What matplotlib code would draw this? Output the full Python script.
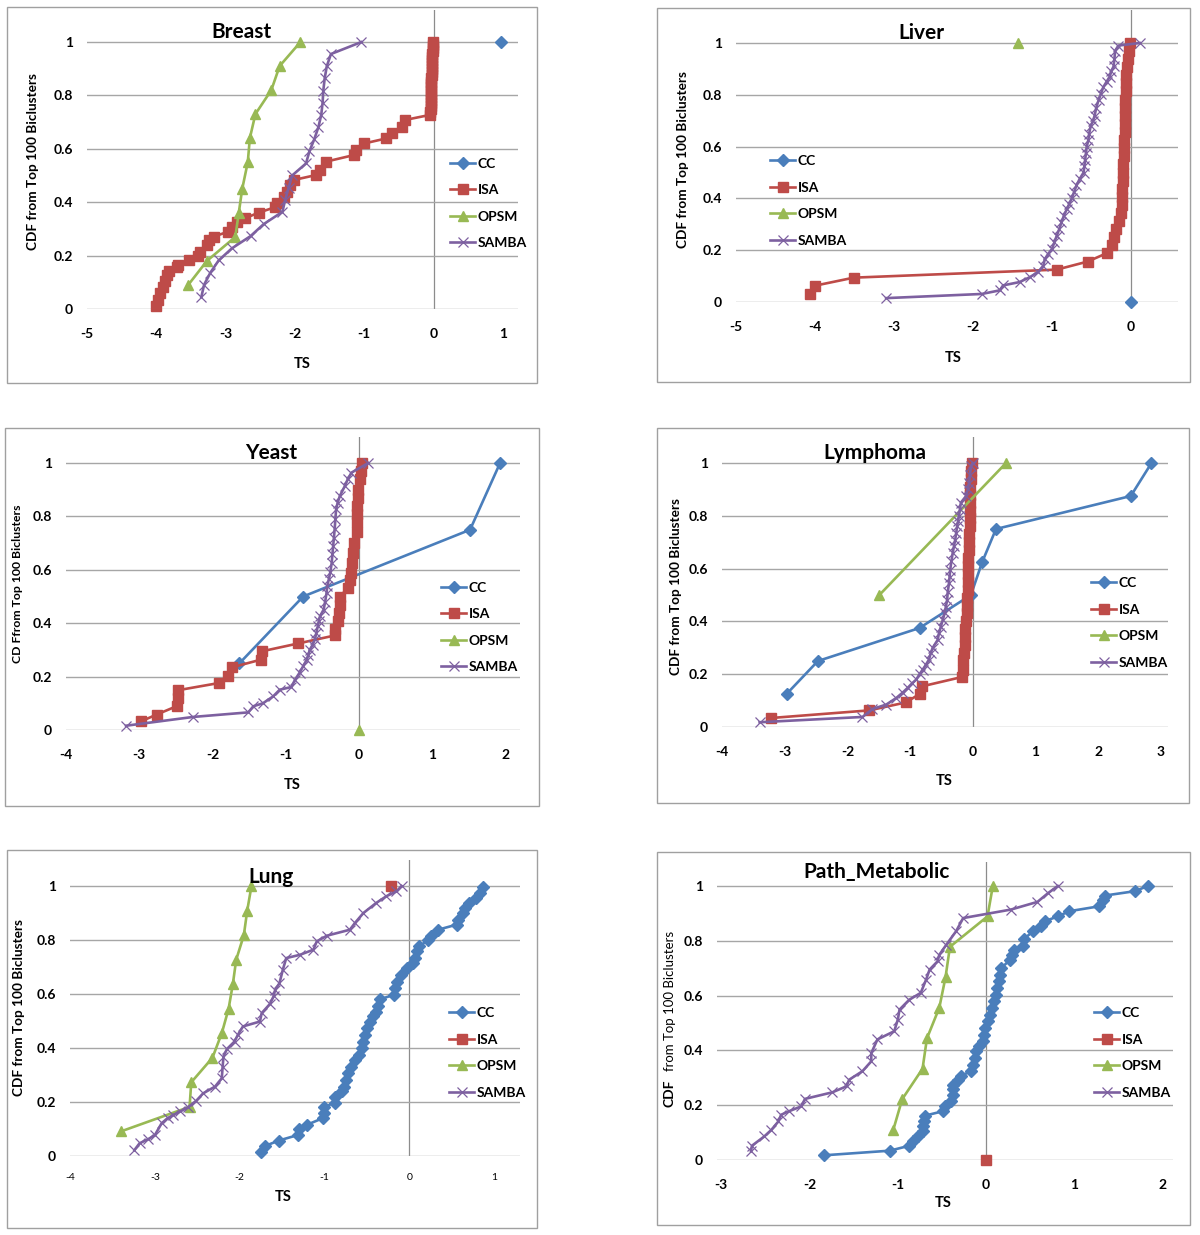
import matplotlib
matplotlib.use('Agg')
import matplotlib.pyplot as plt
from matplotlib.lines import Line2D
from matplotlib.patches import Rectangle

plt.rcParams['font.family'] = ['Lato', 'DejaVu Sans']

# ---------------- data ----------------
series_names = ['CC', 'ISA', 'OPSM', 'SAMBA']
y_ticks = [0, 0.2, 0.4, 0.6, 0.8, 1.0]
y_tick_labels = ['0', '0.2', '0.4', '0.6', '0.8', '1']

# Breast
breast_cc_x = [0.97]
breast_cc_y = [1.0]
breast_isa_x = [-4.01, -3.98, -3.94, -3.91, -3.88, -3.85, -3.82, -3.70, -3.69, -3.53,
                -3.40, -3.37, -3.27, -3.24, -3.17, -2.96, -2.91, -2.84, -2.72, -2.52,
                -2.29, -2.26, -2.16, -2.12, -2.07, -2.02, -1.69, -1.64, -1.55, -1.14,
                -1.12, -1.00, -0.68, -0.60, -0.46, -0.41, -0.05,
                -0.045, -0.043, -0.04, -0.04, -0.038, -0.036, -0.035, -0.034, -0.033, -0.032,
                -0.03, -0.03, -0.028, -0.027, -0.025, -0.024, -0.022, -0.02, -0.018, -0.015,
                -0.012, -0.01, -0.008, -0.005]
breast_isa_y = [0.011, 0.034, 0.061, 0.084, 0.105, 0.127, 0.144, 0.156, 0.165, 0.184,
                0.199, 0.215, 0.24, 0.258, 0.271, 0.29, 0.308, 0.327, 0.34, 0.361,
                0.381, 0.396, 0.421, 0.44, 0.464, 0.483, 0.502, 0.521, 0.552, 0.577,
                0.596, 0.62, 0.639, 0.658, 0.683, 0.708, 0.727,
                0.739, 0.75, 0.761, 0.773, 0.784, 0.795, 0.807, 0.818, 0.83, 0.841,
                0.852, 0.864, 0.875, 0.886, 0.898, 0.909, 0.92, 0.932, 0.943, 0.955,
                0.966, 0.977, 0.989, 1.0]
breast_opsm_x = [-3.54, -3.27, -2.86, -2.81, -2.76, -2.68, -2.65, -2.57, -2.34, -2.22, -1.92]
breast_opsm_y = [0.09, 0.18, 0.27, 0.36, 0.45, 0.55, 0.64, 0.73, 0.82, 0.91, 1.0]
breast_samba_x = [-3.35, -3.31, -3.22, -3.10, -2.91, -2.64, -2.45, -2.18, -2.14, -2.09, -2.04,
                  -1.84, -1.79, -1.72, -1.66, -1.62, -1.60, -1.59, -1.57, -1.54, -1.48, -1.04]
breast_samba_y = [0.045, 0.091, 0.136, 0.182, 0.227, 0.273, 0.318, 0.364, 0.409, 0.455, 0.5,
                  0.545, 0.591, 0.636, 0.682, 0.727, 0.773, 0.818, 0.864, 0.909, 0.955, 1.0]

# Liver
liver_cc_x = [0.0]
liver_cc_y = [0.0]
liver_isa_x = [-4.06, -4.00, -3.51, -0.94, -0.55, -0.31, -0.245, -0.215, -0.19, -0.15,
               -0.13, -0.12, -0.115, -0.11, -0.105, -0.10, -0.095, -0.09, -0.088, -0.085,
               -0.082, -0.08, -0.078, -0.075, -0.07, -0.065, -0.06, -0.058, -0.055, -0.04,
               -0.03, -0.01]
liver_isa_y = [0.031, 0.063, 0.094, 0.125, 0.156, 0.188, 0.219, 0.25, 0.281, 0.313,
               0.344, 0.375, 0.406, 0.438, 0.469, 0.5, 0.531, 0.563, 0.594, 0.625,
               0.656, 0.688, 0.719, 0.75, 0.781, 0.813, 0.844, 0.875, 0.906, 0.938,
               0.969, 1.0]
liver_opsm_x = [-1.43]
liver_opsm_y = [1.0]
liver_samba_x = [-3.10, -1.89, -1.66, -1.62, -1.41, -1.28, -1.18, -1.11, -1.09, -1.05,
                 -1.00, -0.97, -0.94, -0.91, -0.88, -0.85, -0.81, -0.78, -0.75, -0.72,
                 -0.69, -0.65, -0.60, -0.59, -0.58, -0.57, -0.56, -0.54, -0.53, -0.51,
                 -0.48, -0.46, -0.44, -0.41, -0.38, -0.35, -0.31, -0.27, -0.25, -0.22,
                 -0.21, -0.20, -0.16, 0.11]
liver_samba_y = [0.015, 0.031, 0.045, 0.064, 0.077, 0.096, 0.115, 0.14, 0.166, 0.185,
                 0.205, 0.23, 0.256, 0.28, 0.307, 0.333, 0.36, 0.38, 0.40, 0.425,
                 0.45, 0.475, 0.50, 0.525, 0.55, 0.575, 0.60, 0.625, 0.65, 0.68,
                 0.70, 0.72, 0.75, 0.78, 0.805, 0.83, 0.85, 0.87, 0.89, 0.91,
                 0.94, 0.97, 0.99, 1.0]

# Yeast
yeast_cc_x = [-1.63, -0.76, 1.52, 1.93]
yeast_cc_y = [0.25, 0.5, 0.75, 1.0]
yeast_isa_x = [-2.97, -2.76, -2.49, -2.47, -2.47, -1.91, -1.79, -1.73, -1.33, -1.32,
               -0.83, -0.33, -0.33, -0.29, -0.27, -0.26, -0.26, -0.146, -0.12, -0.10,
               -0.087, -0.077, -0.068, -0.03, -0.02, -0.02, -0.018, -0.015, -0.01, 0.02,
               0.03, 0.04]
yeast_isa_y = [0.033, 0.058, 0.089, 0.12, 0.149, 0.176, 0.204, 0.235, 0.264, 0.295,
               0.324, 0.354, 0.379, 0.408, 0.439, 0.47, 0.50, 0.532, 0.56, 0.589,
               0.626, 0.664, 0.70, 0.74, 0.78, 0.81, 0.84, 0.87, 0.90, 0.94,
               0.97, 1.0]
yeast_opsm_x = [0.0]
yeast_opsm_y = [0.0]
yeast_samba_x = [-3.18, -2.26, -1.51, -1.44, -1.31, -1.17, -1.08, -0.92, -0.87, -0.81,
                 -0.76, -0.71, -0.69, -0.67, -0.63, -0.60, -0.58, -0.56, -0.545, -0.53,
                 -0.48, -0.46, -0.44, -0.43, -0.41, -0.39, -0.37, -0.36, -0.35, -0.34,
                 -0.33, -0.32, -0.31, -0.29, -0.26, -0.19, -0.15, -0.10, 0.13]
yeast_samba_y = [0.016, 0.049, 0.066, 0.089, 0.10, 0.126, 0.151, 0.161, 0.189, 0.214,
                 0.239, 0.264, 0.28, 0.30, 0.32, 0.339, 0.364, 0.389, 0.41, 0.426,
                 0.451, 0.48, 0.514, 0.54, 0.564, 0.59, 0.626, 0.66, 0.689, 0.72,
                 0.751, 0.79, 0.826, 0.85, 0.876, 0.914, 0.94, 0.964, 1.0]

# Lymphoma
lymph_cc_x = [-2.97, -2.47, -0.85, -0.03, 0.15, 0.37, 2.52, 2.85]
lymph_cc_y = [0.125, 0.25, 0.375, 0.5, 0.625, 0.75, 0.875, 1.0]
lymph_isa_x = [-3.22, -1.65, -1.07, -0.84, -0.81, -0.18, -0.16, -0.15,
               -0.14, -0.13, -0.12, -0.12, -0.11, -0.10, -0.10, -0.09, -0.08, -0.08,
               -0.07, -0.07, -0.07, -0.06, -0.06, -0.06, -0.05, -0.05, -0.05, -0.04,
               -0.04, -0.04, -0.03, -0.03, -0.02]
lymph_isa_y = [0.034, 0.063, 0.093, 0.126, 0.154, 0.189, 0.217, 0.255,
               0.28, 0.31, 0.34, 0.37, 0.40, 0.43, 0.46, 0.49, 0.52, 0.55,
               0.58, 0.61, 0.64, 0.67, 0.70, 0.73, 0.76, 0.79, 0.82, 0.85,
               0.88, 0.91, 0.94, 0.97, 1.0]
lymph_opsm_x = [-1.49, 0.53]
lymph_opsm_y = [0.5, 1.0]
lymph_samba_x = [-3.40, -1.76, -1.60, -1.38, -1.22, -1.12, -1.04, -0.97, -0.90, -0.85,
                 -0.80, -0.75, -0.70, -0.67, -0.64, -0.56, -0.54, -0.51, -0.48, -0.45,
                 -0.43, -0.41, -0.40, -0.38, -0.37, -0.36, -0.34, -0.32, -0.30, -0.28,
                 -0.265, -0.25, -0.235, -0.22, -0.205, -0.19, -0.11, -0.08, -0.06, -0.045,
                 -0.03, 0.0]
lymph_samba_y = [0.018, 0.038, 0.068, 0.085, 0.11, 0.13, 0.148, 0.165, 0.18, 0.2,
                 0.217, 0.235, 0.255, 0.28, 0.30, 0.33, 0.355, 0.38, 0.405, 0.43,
                 0.455, 0.48, 0.51, 0.545, 0.57, 0.596, 0.63, 0.66, 0.685, 0.71,
                 0.735, 0.76, 0.78, 0.80, 0.825, 0.85, 0.874, 0.90, 0.924, 0.955,
                 0.987, 1.0]

# Lung
lung_cc_x = [-1.75, -1.70, -1.54, -1.31, -1.30, -1.21, -1.02, -1.01, -1.01, -0.88,
             -0.87, -0.79, -0.77, -0.74, -0.72, -0.69, -0.64, -0.59, -0.56, -0.54,
             -0.52, -0.50, -0.46, -0.43, -0.39, -0.37, -0.34, -0.18, -0.17, -0.14,
             -0.10, -0.03, 0.05, 0.07, 0.09, 0.12, 0.22, 0.26, 0.34, 0.56,
             0.58, 0.64, 0.66, 0.70, 0.79, 0.83, 0.87]
lung_cc_y = [0.016, 0.037, 0.057, 0.078, 0.099, 0.115, 0.14, 0.158, 0.18, 0.198,
             0.218, 0.239, 0.257, 0.282, 0.307, 0.331, 0.356, 0.375, 0.399, 0.424,
             0.449, 0.473, 0.498, 0.519, 0.535, 0.554, 0.581, 0.597, 0.622, 0.646,
             0.671, 0.696, 0.714, 0.733, 0.758, 0.776, 0.80, 0.816, 0.838, 0.857,
             0.875, 0.90, 0.918, 0.937, 0.955, 0.974, 0.996]
lung_isa_x = [-0.21]
lung_isa_y = [1.0]
lung_opsm_x = [-3.40, -2.59, -2.57, -2.32, -2.21, -2.13, -2.08, -2.04, -1.95, -1.91, -1.86]
lung_opsm_y = [0.091, 0.182, 0.273, 0.364, 0.455, 0.545, 0.636, 0.727, 0.818, 0.909, 1.0]
lung_samba_x = [-3.24, -3.18, -3.08, -3.00, -2.92, -2.85, -2.78, -2.70, -2.61, -2.51,
                -2.43, -2.29, -2.21, -2.20, -2.19, -2.15, -2.06, -2.02, -1.96, -1.76,
                -1.74, -1.64, -1.60, -1.58, -1.53, -1.49, -1.45, -1.29, -1.13, -1.09,
                -0.97, -0.70, -0.64, -0.54, -0.39, -0.27, -0.15, -0.09]
lung_samba_y = [0.022, 0.047, 0.062, 0.077, 0.121, 0.14, 0.152, 0.165, 0.18, 0.205,
                0.232, 0.257, 0.288, 0.331, 0.368, 0.396, 0.424, 0.449, 0.48, 0.498,
                0.529, 0.564, 0.591, 0.616, 0.64, 0.69, 0.733, 0.745, 0.764, 0.795,
                0.816, 0.838, 0.863, 0.90, 0.937, 0.962, 0.98, 1.0]

# Path_Metabolic
path_cc_x = [-1.84, -1.09, -0.87, -0.83, -0.77, -0.72, -0.71, -0.70, -0.69, -0.49,
             -0.47, -0.40, -0.38, -0.38, -0.37, -0.32, -0.28, -0.17, -0.15, -0.13,
             -0.11, -0.08, -0.04, -0.03, -0.01, 0.02, 0.045, 0.07, 0.09, 0.11,
             0.125, 0.14, 0.16, 0.17, 0.27, 0.29, 0.32, 0.42, 0.43, 0.53,
             0.62, 0.66, 0.81, 0.94, 1.28, 1.32, 1.34, 1.68, 1.83]
path_cc_y = [0.017, 0.034, 0.052, 0.07, 0.086, 0.105, 0.123, 0.141, 0.162, 0.178,
             0.196, 0.214, 0.238, 0.259, 0.274, 0.291, 0.308, 0.324, 0.348, 0.372,
             0.397, 0.417, 0.433, 0.457, 0.482, 0.506, 0.53, 0.555, 0.579, 0.603,
             0.628, 0.652, 0.676, 0.70, 0.731, 0.749, 0.768, 0.782, 0.807, 0.835,
             0.853, 0.871, 0.889, 0.908, 0.926, 0.95, 0.965, 0.981, 1.0]
path_isa_x = [0.0]
path_isa_y = [0.0]
path_opsm_x = [-1.05, -0.95, -0.72, -0.67, -0.53, -0.46, -0.41, 0.015, 0.075]
path_opsm_y = [0.111, 0.222, 0.333, 0.444, 0.556, 0.667, 0.778, 0.889, 1.0]
path_samba_x = [-2.66, -2.65, -2.51, -2.43, -2.35, -2.32, -2.23, -2.09, -2.05, -1.74,
                -1.58, -1.55, -1.40, -1.30, -1.30, -1.23, -1.04, -1.00, -0.98, -0.87,
                -0.74, -0.68, -0.64, -0.55, -0.53, -0.45, -0.34, -0.26, 0.28, 0.58,
                0.70, 0.81]
path_samba_y = [0.032, 0.052, 0.086, 0.11, 0.141, 0.165, 0.178, 0.196, 0.223, 0.247,
                0.269, 0.293, 0.324, 0.36, 0.39, 0.44, 0.47, 0.512, 0.549, 0.585,
                0.61, 0.658, 0.695, 0.725, 0.749, 0.786, 0.835, 0.883, 0.914, 0.942,
                0.974, 1.0]

# ---------------- styling / layout ----------------
W, H = 1200, 1235
COLORS = {'CC': '#4A7EBB', 'ISA': '#BE4B48', 'OPSM': '#98B954', 'SAMBA': '#7D60A0'}
MARKERS = {'CC': dict(marker='D', ms=6),
           'ISA': dict(marker='s', ms=7.5),
           'OPSM': dict(marker='^', ms=7),
           'SAMBA': dict(marker='x', ms=7, mew=0.9)}
GRID = '#a6a6a6'

panels = [
    dict(title='Breast', title_xy=(241, 32), box=(7, 7, 537, 383),
         L=87, R=518, xleft=-5, ppu=69.3, y0=309, ppuy=267, top=10,
         xticks=[-5, -4, -3, -2, -1, 0, 1], leg=(450, 203.5), xlab=(302, 364),
         ylab=dict(x=33, y=162, kind='bold'), xtick_small=False,
         data={'CC': (breast_cc_x, breast_cc_y), 'ISA': (breast_isa_x, breast_isa_y),
               'OPSM': (breast_opsm_x, breast_opsm_y), 'SAMBA': (breast_samba_x, breast_samba_y)}),
    dict(title='Liver', title_xy=(921, 33), box=(657, 8, 1190, 382),
         L=736, R=1178, xleft=-5, ppu=79.0, y0=302, ppuy=259, top=10,
         xticks=[-5, -4, -3, -2, -1, 0], leg=(770, 201), xlab=(953, 358),
         ylab=dict(x=683, y=160, kind='bold'), xtick_small=False,
         data={'CC': (liver_cc_x, liver_cc_y), 'ISA': (liver_isa_x, liver_isa_y),
               'OPSM': (liver_opsm_x, liver_opsm_y), 'SAMBA': (liver_samba_x, liver_samba_y)}),
    dict(title='Yeast', title_xy=(271, 453), box=(5, 428, 539, 806),
         L=66, R=520, xleft=-4, ppu=73.2, y0=730, ppuy=267, top=437,
         xticks=[-4, -3, -2, -1, 0, 1, 2], leg=(441, 627.5), xlab=(292, 785),
         ylab=dict(x=18, y=584, kind='small'), xtick_small=False,
         data={'CC': (yeast_cc_x, yeast_cc_y), 'ISA': (yeast_isa_x, yeast_isa_y),
               'OPSM': (yeast_opsm_x, yeast_opsm_y), 'SAMBA': (yeast_samba_x, yeast_samba_y)}),
    dict(title='Lymphoma', title_xy=(875, 453), box=(657, 428, 1189, 803),
         L=722, R=1168, xleft=-4, ppu=62.7, y0=727, ppuy=264, top=437,
         xticks=[-4, -3, -2, -1, 0, 1, 2, 3], leg=(1091, 623), xlab=(944, 781),
         ylab=dict(x=676, y=587, kind='bold'), xtick_small=False,
         data={'CC': (lymph_cc_x, lymph_cc_y), 'ISA': (lymph_isa_x, lymph_isa_y),
               'OPSM': (lymph_opsm_x, lymph_opsm_y), 'SAMBA': (lymph_samba_x, lymph_samba_y)}),
    dict(title='Lung', title_xy=(271, 877), box=(7, 850, 537, 1228),
         L=70, R=520, xleft=-4, ppu=84.8, y0=1156, ppuy=270, top=860,
         xticks=[-4, -3, -2, -1, 0, 1], leg=(449, 1053), xlab=(283, 1197),
         ylab=dict(x=19, y=1008, kind='bold'), xtick_small=True,
         data={'CC': (lung_cc_x, lung_cc_y), 'ISA': (lung_isa_x, lung_isa_y),
               'OPSM': (lung_opsm_x, lung_opsm_y), 'SAMBA': (lung_samba_x, lung_samba_y)}),
    dict(title='Path_Metabolic', title_xy=(877, 872), box=(657, 852, 1190, 1225),
         L=717, R=1173, xleft=-3.045, ppu=88.4, y0=1160, ppuy=274, top=862,
         xticks=[-3, -2, -1, 0, 1, 2], leg=(1094, 1053), xlab=(943, 1203),
         ylab=dict(x=670, y=1015, kind='split'), xtick_small=False,
         data={'CC': (path_cc_x, path_cc_y), 'ISA': (path_isa_x, path_isa_y),
               'OPSM': (path_opsm_x, path_opsm_y), 'SAMBA': (path_samba_x, path_samba_y)}),
]

fig = plt.figure(figsize=(W / 100, H / 100), dpi=100)


def fx(x):
    return x / W


def fy(y):
    return 1 - y / H


for p in panels:
    bx0, by0, bx1, by1 = p['box']
    fig.add_artist(Rectangle((fx(bx0), fy(by1)), (bx1 - bx0) / W, (by1 - by0) / H,
                             transform=fig.transFigure, fill=False, ec='#a0a0a0', lw=1))
    L, R, y0, top = p['L'], p['R'], p['y0'], p['top']
    ax = fig.add_axes([fx(L), fy(y0), (R - L) / W, (y0 - top) / H])
    ax.set_xlim(p['xleft'], p['xleft'] + (R - L) / p['ppu'])
    ax.set_ylim(0, (y0 - top) / p['ppuy'])
    for s in ax.spines.values():
        s.set_visible(False)
    ax.set_yticks(y_ticks)
    ax.set_yticklabels(y_tick_labels, fontsize=10, fontweight='bold')
    ax.set_xticks(p['xticks'])
    ax.set_xticklabels([str(t) for t in p['xticks']],
                       fontsize=7.5 if p['xtick_small'] else 10,
                       fontweight='normal' if p['xtick_small'] else 'bold')
    ax.tick_params(axis='y', length=0, pad=10)
    ax.tick_params(axis='x', length=0, pad=14 if not p['xtick_small'] else 12)
    ax.grid(axis='y', color=GRID, lw=1)
    ax.grid(axis='x', visible=False)
    ax.axvline(0, color='#8c8c8c', lw=0.9, zorder=1)
    handles = []
    for name in series_names:
        xs, ys = p['data'][name]
        ln, = ax.plot(xs, ys, color=COLORS[name], lw=1.9, clip_on=False,
                      label=name, zorder=3, **MARKERS[name])
        handles.append(ln)
    lx, ly = p['leg']
    fig.legend(handles=handles, labels=series_names, loc='center left',
               bbox_to_anchor=(fx(lx), fy(ly)), bbox_transform=fig.transFigure,
               frameon=False, borderpad=0, borderaxespad=0, handlelength=1.8,
               handletextpad=0.2, labelspacing=1.04, numpoints=1,
               prop=dict(family=['Lato', 'DejaVu Sans'], weight='bold', size=10))
    tx, ty = p['title_xy']
    fig.text(fx(tx), fy(ty), p['title'], ha='center', va='center',
             fontsize=15, fontweight='bold')
    xlx, xly = p['xlab']
    fig.text(fx(xlx), fy(xly), 'TS', ha='center', va='center', fontsize=10.5, fontweight='bold')
    yl = p['ylab']
    if yl['kind'] == 'bold':
        fig.text(fx(yl['x']), fy(yl['y']), 'CDF from Top 100 Biclusters', rotation=90,
                 ha='center', va='center', fontsize=9.8, fontweight='bold')
    elif yl['kind'] == 'small':
        fig.text(fx(yl['x']), fy(yl['y']), 'CD Ffrom Top 100 Biclusters', rotation=90,
                 ha='center', va='center', fontsize=8.8, fontweight='bold')
    else:
        fig.text(fx(yl['x']), fy(1093), 'CDF', rotation=90,
                 ha='center', va='center', fontsize=10, fontweight='bold')
        fig.text(fx(yl['x']), fy(1001), 'from Top 100 Biclusters', rotation=90,
                 ha='center', va='center', fontsize=9.5, fontweight='normal')

fig.savefig('out.png', dpi=100)
